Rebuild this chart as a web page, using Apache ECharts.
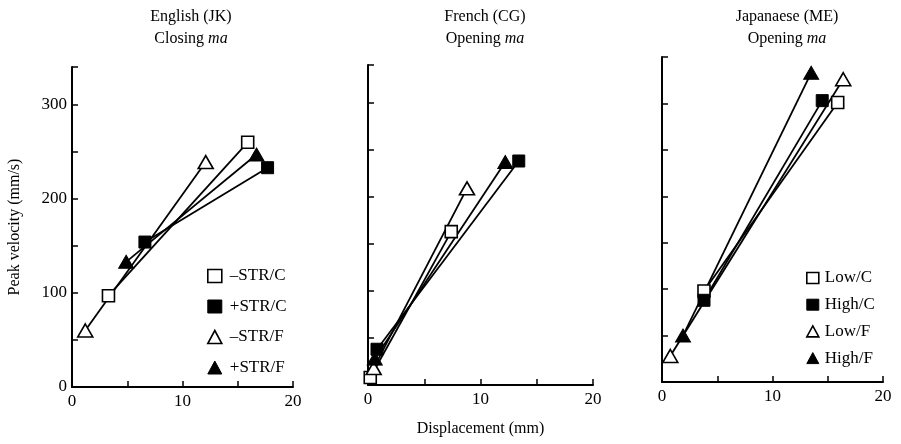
<!DOCTYPE html>
<html>
<head>
<meta charset="utf-8">
<script src="https://cdn.jsdelivr.net/npm/echarts@6/dist/echarts.min.js"></script>
<style>
html,body{margin:0;padding:0;background:#fff;}
#chart{width:901px;height:444px;}
</style>
</head>
<body>
<div id="chart"></div>
<script>
// ---- data (displacement mm, peak velocity mm/s) ----
const panelTitles = [
  ['English (JK)', 'Closing'],
  ['French (CG)', 'Opening'],
  ['Japanaese (ME)', 'Opening']
];
const legendNamesA = ['\u2013STR/C', '+STR/C', '\u2013STR/F', '+STR/F'];
const legendNamesB = ['Low/C', 'High/C', 'Low/F', 'High/F'];
const xTickLabels = [0, 10, 20];
const yTickLabels = [0, 100, 200, 300];

// English (JK), closing ma
const engNegC = [[3.3, 97], [15.9, 260]];
const engPosC = [[6.6, 154], [17.7, 233]];
const engNegF = [[1.2, 60], [12.1, 239]];
const engPosF = [[4.9, 133], [16.7, 247]];
// French (CG), opening ma
const freNegC = [[0.2, 8], [7.4, 163]];
const frePosC = [[0.8, 38], [13.4, 238]];
const freNegF = [[0.5, 18], [8.8, 209]];
const frePosF = [[0.6, 28], [12.2, 237]];
// Japanese (ME), opening ma
const jpnLowC = [[3.8, 98], [15.9, 301]];
const jpnHighC = [[3.8, 88], [14.5, 303]];
const jpnLowF = [[0.75, 28], [16.4, 326]];
const jpnHighF = [[1.9, 50], [13.5, 333]];

const FONT = "'Liberation Serif', 'Times New Roman', serif";

const grids = [
  {left: 72, top: 67, width: 221, height: 320},
  {left: 368, top: 65, width: 225, height: 320},
  {left: 662, top: 57, width: 221, height: 325}
];
const yMax = [340, 340, 350];

function styleFor(kind) {
  // kind: 0 open square, 1 filled square, 2 open triangle, 3 filled triangle
  const tri = kind >= 2;
  const filled = kind % 2 === 1;
  return {
    symbol: tri ? 'triangle' : 'rect',
    symbolSize: tri ? [15, 13] : 12,
    itemStyle: filled ? {color: '#000', borderColor: '#000', borderWidth: 1}
                      : {color: '#fff', borderColor: '#000', borderWidth: 1.6}
  };
}

function mkSeries(name, data, kind, gi) {
  const st = styleFor(kind);
  return {
    type: 'line', name: name, data: data,
    xAxisIndex: gi, yAxisIndex: gi,
    symbol: st.symbol, symbolSize: st.symbolSize,
    showSymbol: true, itemStyle: st.itemStyle,
    lineStyle: {color: '#000', width: 1.8},
    emphasis: {disabled: true}, animation: false, z: 2
  };
}

const series = [
  mkSeries(legendNamesA[0], engNegC, 0, 0),
  mkSeries(legendNamesA[1], engPosC, 1, 0),
  mkSeries(legendNamesA[2], engNegF, 2, 0),
  mkSeries(legendNamesA[3], engPosF, 3, 0),
  mkSeries(legendNamesA[0], freNegC, 0, 1),
  mkSeries(legendNamesA[1], frePosC, 1, 1),
  mkSeries(legendNamesA[2], freNegF, 2, 1),
  mkSeries(legendNamesA[3], frePosF, 3, 1),
  mkSeries(legendNamesB[0], jpnLowC, 0, 2),
  mkSeries(legendNamesB[1], jpnHighC, 1, 2),
  mkSeries(legendNamesB[2], jpnLowF, 2, 2),
  mkSeries(legendNamesB[3], jpnHighF, 3, 2)
];

function legendData(names) {
  return names.map((n, k) => {
    const tri = k >= 2, filled = k % 2 === 1;
    return {
      name: n,
      icon: tri ? 'triangle' : 'rect',
      itemStyle: filled ? {color: '#000', borderColor: '#000', borderWidth: 1}
                        : {color: '#fff', borderColor: '#000', borderWidth: 1.6}
    };
  });
}

const axisLine = {show: true, lineStyle: {color: '#000', width: 2}};
const axisTick = {show: true, inside: true, length: 6, lineStyle: {color: '#000', width: 1.5}};

const xAxes = grids.map((g, i) => ({
  type: 'value', gridIndex: i, min: 0, max: 20, interval: 5,
  axisLine: axisLine, axisTick: axisTick, splitLine: {show: false},
  axisLabel: {
    color: '#000', fontFamily: FONT, fontSize: 17, margin: 6,
    formatter: v => (xTickLabels.indexOf(v) >= 0 ? String(v) : '')
  },
  name: i === 1 ? 'Displacement (mm)' : '',
  nameLocation: 'middle', nameGap: 36,
  nameTextStyle: {color: '#000', fontFamily: FONT, fontSize: 16}
}));

const yAxes = grids.map((g, i) => ({
  type: 'value', gridIndex: i, min: 0, max: yMax[i], interval: 50,
  axisLine: axisLine, axisTick: axisTick, splitLine: {show: false},
  axisLabel: {
    show: i === 0, color: '#000', fontFamily: FONT, fontSize: 17, margin: 5,
    formatter: v => (yTickLabels.indexOf(v) >= 0 ? String(v) : '')
  },
  name: i === 0 ? 'Peak velocity (mm/s)' : '',
  nameLocation: 'middle', nameGap: 49,
  nameTextStyle: {color: '#000', fontFamily: FONT, fontSize: 16}
}));

const titleCenters = [186, 480, 782];
const titles = panelTitles.map((t, i) => ({
  text: t[0] + '\n' + t[1] + ' {i|ma}',
  left: titleCenters[i], top: 1, textAlign: 'center',
  textStyle: {
    color: '#000', fontFamily: FONT, fontSize: 16, fontWeight: 'normal', lineHeight: 22,
    rich: {i: {fontStyle: 'italic', fontFamily: FONT, fontSize: 16, color: '#000', lineHeight: 22}}
  }
}));

const option = {
  backgroundColor: '#fff',
  animation: false,
  title: titles,
  grid: grids,
  xAxis: xAxes,
  yAxis: yAxes,
  legend: [
    {
      data: legendData(legendNamesA), orient: 'vertical', left: 207, top: 267,
      padding: 0, itemWidth: 14, itemHeight: 13, itemGap: 12.5,
      selectedMode: false,
      textStyle: {color: '#000', fontFamily: FONT, fontSize: 17, lineHeight: 18, padding: [0, 0, 0, 3]}
    },
    {
      data: legendData(legendNamesB), orient: 'vertical', left: 806, top: 269,
      padding: 0, itemWidth: 12, itemHeight: 11, itemGap: 8.7,
      selectedMode: false,
      textStyle: {color: '#000', fontFamily: FONT, fontSize: 17, lineHeight: 18, padding: [0, 0, 0, 1]}
    }
  ],
  series: series
};

const chart = echarts.init(document.getElementById('chart'), null, {renderer: 'canvas'});
chart.setOption(option);
</script>
</body>
</html>
